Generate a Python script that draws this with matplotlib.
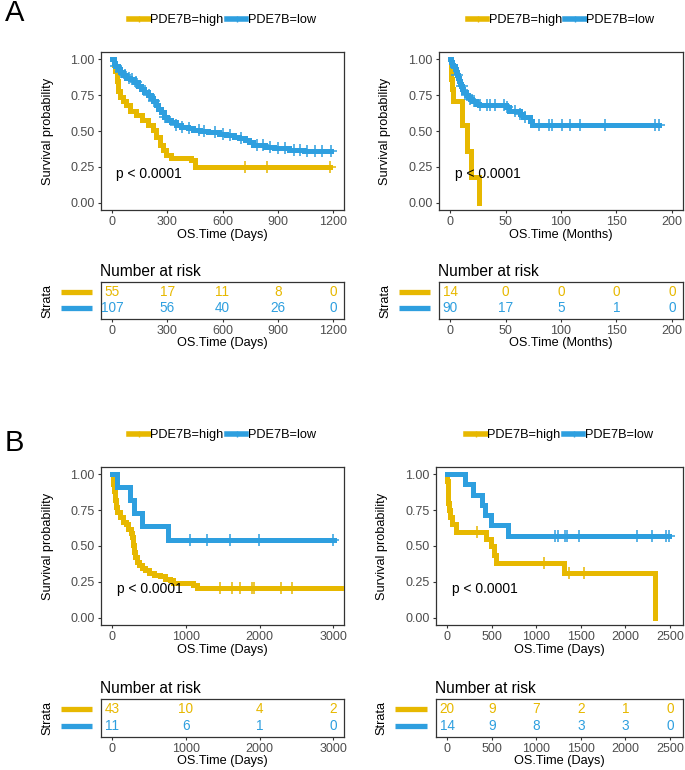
import numpy as np
import matplotlib
matplotlib.use("Agg")
import matplotlib.pyplot as plt
from matplotlib.lines import Line2D

plt.rcParams['font.family'] = ['Liberation Sans', 'DejaVu Sans']

# colours of the two groups
GOLD = "#E7B800"
BLUE = "#2E9FDF"
TICK_GREY = "#4D4D4D"

# ---------------- data ----------------
# A left : OS in days
a1_high_t = [0, 8, 15, 25, 34, 45, 60, 75, 95, 130, 165, 195, 220, 240, 258, 276, 294, 320, 430, 448]
a1_high_s = [1.0, 0.96, 0.92, 0.85, 0.78, 0.74, 0.71, 0.68, 0.64, 0.61, 0.58, 0.54, 0.51, 0.46, 0.40, 0.37, 0.33, 0.31, 0.30, 0.25]
a1_high_end = 1185
a1_high_cens = [720, 840, 1185]
a1_low_t = [0, 8, 15, 30, 45, 60, 75, 100, 120, 140, 155, 175, 195, 210, 225, 240, 250, 265, 280, 300, 320,
            345, 375, 410, 440, 480, 520, 580, 620, 660, 690, 720, 745, 765, 830, 880, 960, 1040]
a1_low_s = [1.0, 0.97, 0.95, 0.93, 0.91, 0.89, 0.87, 0.86, 0.84, 0.81, 0.79, 0.77, 0.75, 0.73, 0.71, 0.68, 0.65,
            0.63, 0.60, 0.58, 0.56, 0.54, 0.53, 0.52, 0.51, 0.50, 0.49, 0.48, 0.47, 0.46, 0.45, 0.44, 0.42, 0.40,
            0.39, 0.38, 0.37, 0.36]
a1_low_end = 1190
a1_low_cens = [20, 50, 70, 90, 110, 130, 150, 200, 230, 290, 350, 380, 420, 470, 500, 560, 600, 640, 700,
               790, 820, 860, 900, 940, 990, 1020, 1060, 1100, 1140, 1190]
a1_risk_t = [0, 300, 600, 900, 1200]
a1_risk_high = [55, 17, 11, 8, 0]
a1_risk_low = [107, 56, 40, 26, 0]

# A right : OS in months
a2_high_t = [0, 0.5, 1, 1.5, 2.5, 11, 15.6, 18.5, 26]
a2_high_s = [1.0, 0.93, 0.86, 0.79, 0.71, 0.54, 0.36, 0.18, 0.0]
a2_high_end = 26
a2_high_cens = []
a2_low_t = [0, 1, 2, 3, 4, 5, 6, 7, 8, 9, 10, 11, 12, 14, 16, 18, 20, 23, 26, 50, 53, 63, 66, 72, 74]
a2_low_s = [1.0, 0.98, 0.96, 0.95, 0.93, 0.91, 0.89, 0.87, 0.85, 0.83, 0.81, 0.79, 0.77, 0.75, 0.74, 0.72,
            0.71, 0.69, 0.68, 0.67, 0.64, 0.62, 0.60, 0.57, 0.54]
a2_low_end = 188
a2_low_cens = [6.3, 10.8, 15.3, 18.3, 21.3, 27.3, 33.3, 36.3, 40.8, 48.3, 51.3, 58.8, 63.3, 67.8, 79.8,
               88.8, 91.8, 100.8, 108.3, 117.3, 139.7, 184.7, 188]
a2_risk_t = [0, 50, 100, 150, 200]
a2_risk_high = [14, 0, 0, 0, 0]
a2_risk_low = [90, 17, 5, 1, 0]

# B left : OS in days
b1_high_t = [0, 10, 20, 35, 50, 70, 100, 140, 180, 220, 250, 270, 285, 300, 315, 330, 360, 400, 440, 500,
             560, 650, 720, 780, 830, 1100, 1145]
b1_high_s = [1.0, 0.93, 0.88, 0.82, 0.77, 0.74, 0.70, 0.67, 0.65, 0.62, 0.59, 0.56, 0.51, 0.46, 0.42, 0.39,
             0.37, 0.35, 0.33, 0.31, 0.30, 0.29, 0.27, 0.26, 0.24, 0.23, 0.21]
b1_high_end = 3200
b1_high_cens = [1460, 1630, 1740, 1890, 1920, 2290, 2440]
b1_low_t = [0, 60, 240, 290, 400, 760]
b1_low_s = [1.0, 0.909, 0.818, 0.727, 0.636, 0.545]
b1_low_end = 3010
b1_low_cens = [1060, 1290, 1600, 1990, 3000]
b1_risk_t = [0, 1000, 2000, 3000]
b1_risk_high = [43, 10, 4, 2]
b1_risk_low = [11, 6, 1, 0]

# B right : OS in days
b2_high_t = [0, 3, 6, 10, 15, 20, 35, 55, 95, 434, 490, 528, 550, 1315, 2326]
b2_high_s = [1.0, 0.95, 0.90, 0.85, 0.80, 0.75, 0.70, 0.65, 0.60, 0.55, 0.50, 0.44, 0.38, 0.31, 0.0]
b2_high_end = 2326
b2_high_cens = [330, 1090, 1370, 1530]
b2_low_t = [0, 198, 292, 390, 430, 490, 685]
b2_low_s = [1.0, 0.929, 0.857, 0.786, 0.714, 0.643, 0.571]
b2_low_end = 2490
b2_low_cens = [1215, 1240, 1325, 1345, 1475, 2125, 2300, 2450, 2490]
b2_risk_t = [0, 500, 1000, 1500, 2000, 2500]
b2_risk_high = [20, 9, 7, 2, 1, 0]
b2_risk_low = [14, 9, 8, 3, 3, 0]


fig = plt.figure(figsize=(6.85, 7.70), dpi=100)


def px_axes(l, t, r, b):
    # axes placed by pixel box of the 685x770 picture
    return fig.add_axes([l / 685, 1 - b / 770, (r - l) / 685, (b - t) / 770])


def style_axes(ax):
    for sp in ax.spines.values():
        sp.set_color("#333333")
        sp.set_linewidth(0.9)
    ax.tick_params(axis="both", direction="out", length=2.5, width=0.8, color="#333333",
                   labelsize=9, labelcolor=TICK_GREY, pad=2)


def draw_curve(ax, t, s, end, cens, color):
    tt = list(t) + [end]
    ss = list(s) + [s[-1]]
    ax.step(tt, ss, where="post", color=color, lw=3.6, solid_joinstyle="miter", zorder=3)
    if cens:
        idx = np.searchsorted(np.array(t), np.array(cens), side="right") - 1
        cy = np.array(s)[idx]
        ax.plot(cens, cy, ls="none", marker="+", ms=8, mew=1.1, color=color, zorder=4)


def km_panel(main_box, table_box, xlim, xticks, unit, high, low, risk_t, risk_high, risk_low):
    ax = px_axes(*main_box)
    style_axes(ax)
    draw_curve(ax, *high, GOLD)
    draw_curve(ax, *low, BLUE)
    ax.set_xlim(xlim)
    ax.set_ylim(-0.05, 1.05)
    ax.set_xticks(xticks)
    ax.set_yticks([0, 0.25, 0.5, 0.75, 1.0])
    ax.set_yticklabels(["0.00", "0.25", "0.50", "0.75", "1.00"])
    ax.set_ylabel("Survival probability", fontsize=9.2)
    ax.yaxis.set_label_coords(-0.195, 0.5)
    ax.set_xlabel("OS.Time (" + unit + ")", fontsize=9.2)
    ax.xaxis.set_label_coords(0.5, -0.12)
    ax.text(xticks[-1] * 0.02, 0.2, "p < 0.0001", fontsize=10, ha="left", va="center", color="black")

    # legend on top
    handles = [Line2D([], [], color=GOLD, lw=4, marker="|", ms=5, mew=1),
               Line2D([], [], color=BLUE, lw=4, marker="|", ms=5, mew=1)]
    ax.legend(handles, ["PDE7B=high", "PDE7B=low"], loc="center", bbox_to_anchor=(0.5, 1.2),
              ncol=2, frameon=False, fontsize=9.2, handlelength=1.55, handletextpad=0.1,
              columnspacing=0.25, borderpad=0)

    # number at risk table
    tb = px_axes(*table_box)
    style_axes(tb)
    tb.set_xlim(xlim)
    tb.set_ylim(-0.65, 1.6)
    tb.set_xticks(xticks)
    tb.set_yticks([])
    for x, n in zip(risk_t, risk_high):
        tb.text(x, 1, str(n), color=GOLD, fontsize=9.8, ha="center", va="center")
    for x, n in zip(risk_t, risk_low):
        tb.text(x, 0, str(n), color=BLUE, fontsize=9.8, ha="center", va="center")
    tb.set_title("Number at risk", loc="left", fontsize=11.2, pad=4, x=-0.005)
    tb.set_ylabel("Strata", fontsize=9.2)
    tb.yaxis.set_label_coords(-0.195, 0.5)
    tb.set_xlabel("OS.Time (" + unit + ")", fontsize=9.2)
    tb.xaxis.set_label_coords(0.5, -0.48)
    trans = tb.get_yaxis_transform()
    tb.plot([-0.165, -0.037], [1, 1], color=GOLD, lw=3.8, transform=trans, clip_on=False,
            solid_capstyle="butt")
    tb.plot([-0.165, -0.037], [0, 0], color=BLUE, lw=3.8, transform=trans, clip_on=False,
            solid_capstyle="butt")
    return ax


km_panel((101, 52, 344, 210), (101, 282, 344, 319), (-60, 1260), [0, 300, 600, 900, 1200], "Days",
         (a1_high_t, a1_high_s, a1_high_end, a1_high_cens),
         (a1_low_t, a1_low_s, a1_low_end, a1_low_cens),
         a1_risk_t, a1_risk_high, a1_risk_low)

km_panel((439, 52, 683, 210), (439, 282, 683, 319), (-10, 210), [0, 50, 100, 150, 200], "Months",
         (a2_high_t, a2_high_s, a2_high_end, a2_high_cens),
         (a2_low_t, a2_low_s, a2_low_end, a2_low_cens),
         a2_risk_t, a2_risk_high, a2_risk_low)

km_panel((101, 467, 344, 625), (101, 699, 344, 737), (-153, 3145), [0, 1000, 2000, 3000], "Days",
         (b1_high_t, b1_high_s, b1_high_end, b1_high_cens),
         (b1_low_t, b1_low_s, b1_low_end, b1_low_cens),
         b1_risk_t, b1_risk_high, b1_risk_low)

km_panel((436, 467, 683, 625), (436, 699, 683, 737), (-125, 2645), [0, 500, 1000, 1500, 2000, 2500], "Days",
         (b2_high_t, b2_high_s, b2_high_end, b2_high_cens),
         (b2_low_t, b2_low_s, b2_low_end, b2_low_cens),
         b2_risk_t, b2_risk_high, b2_risk_low)

# panel letters
fig.text(5 / 685, 1 - 13 / 770, "A", fontsize=21, ha="left", va="center")
fig.text(5 / 685, 1 - 443 / 770, "B", fontsize=21, ha="left", va="center")

fig.savefig("out.png", dpi=100)
